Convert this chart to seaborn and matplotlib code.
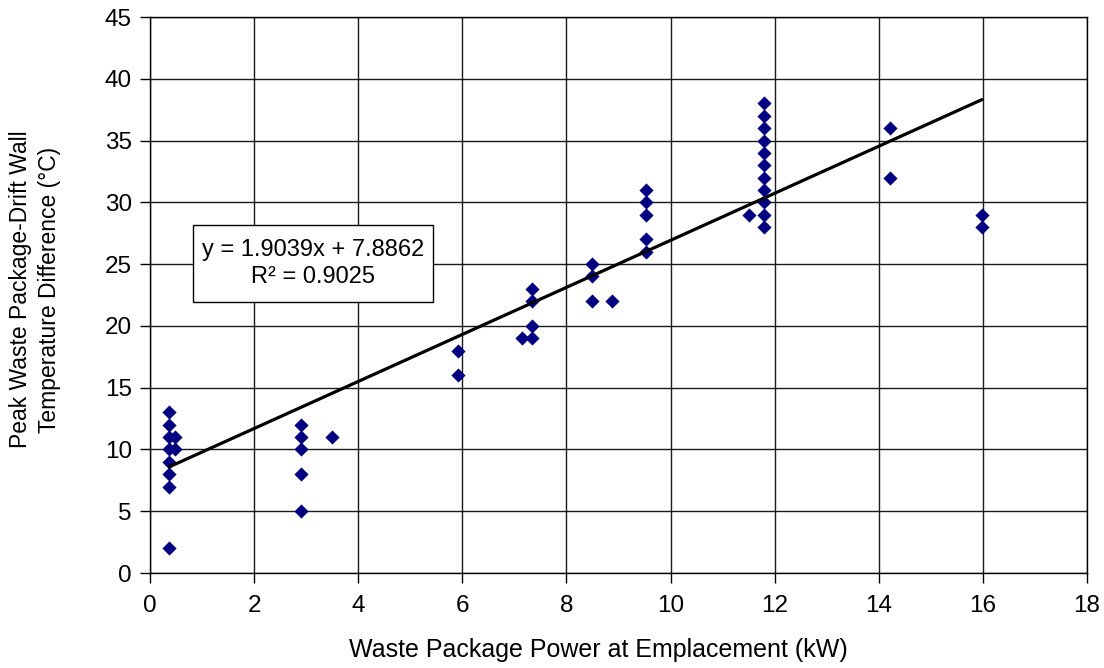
import numpy as np
import pandas as pd
import matplotlib
matplotlib.use("Agg")
import matplotlib.pyplot as plt
from matplotlib.patches import Rectangle
import seaborn as sns

# Waste package power (kW) and peak package-to-drift-wall temperature difference (°C)
power_kw = [0.37, 0.37, 0.37, 0.37, 0.37, 0.37, 0.37, 0.37, 0.48, 0.48,
            2.9, 2.9, 2.9, 2.9, 2.9, 3.5,
            5.92, 5.92,
            7.15, 7.33, 7.33, 7.33, 7.33,
            8.49, 8.49, 8.49, 8.88,
            9.53, 9.53, 9.53, 9.53, 9.53,
            11.5, 11.8, 11.8, 11.8, 11.8, 11.8, 11.8, 11.8, 11.8, 11.8, 11.8, 11.8,
            14.21, 14.21,
            15.98, 15.98]
temp_diff_c = [13, 12, 11, 10, 9, 8, 7, 2, 11, 10,
               12, 11, 10, 8, 5, 11,
               18, 16,
               19, 23, 22, 20, 19,
               25, 24, 22, 22,
               31, 30, 29, 27, 26,
               29, 38, 37, 36, 35, 34, 33, 32, 31, 30, 29, 28,
               36, 32,
               29, 28]

# Linear trend line as reported
slope = 1.9039
intercept = 7.8862
r_squared = 0.9025

x_ticks = list(range(0, 19, 2))
y_ticks = list(range(0, 46, 5))

sns.set_style("white")
plt.rcParams["font.family"] = ["Liberation Sans", "DejaVu Sans"]
plt.rcParams.update({"text.color": "black", "axes.labelcolor": "black",
                     "xtick.color": "black", "ytick.color": "black"})

df = pd.DataFrame({"power": power_kw, "dT": temp_diff_c})

fig = plt.figure(figsize=(11.04, 6.68), dpi=100)
ax = fig.add_axes([150 / 1104, 1 - 573 / 668, (1087 - 150) / 1104, (573 - 17) / 668])

sns.scatterplot(data=df, x="power", y="dT", marker="D", s=52, color="#000080",
                linewidth=0, ax=ax, zorder=3)

xs = np.array([min(power_kw), max(power_kw)])
sns.lineplot(x=xs, y=slope * xs + intercept, color="black", linewidth=2.3, ax=ax, zorder=4)

ax.set_xlim(0, 18)
ax.set_ylim(0, 45)
ax.set_xticks(x_ticks)
ax.set_yticks(y_ticks)
ax.grid(True, color="#1a1a1a", linewidth=1.0)
ax.set_axisbelow(True)
for sp in ax.spines.values():
    sp.set_color("black")
    sp.set_linewidth(1.0)
ax.tick_params(axis="both", direction="out", length=7, width=1, color="black",
               labelsize=17.5, bottom=True, left=True)
ax.tick_params(axis="x", pad=9)
ax.tick_params(axis="y", pad=6)

ax.set_xlabel("Waste Package Power at Emplacement (kW)", fontsize=18, va="center")
ax.xaxis.set_label_coords((598 - 150) / 937, (573 - 650) / 556)
ax.set_ylabel("Peak Waste Package-Drift Wall\nTemperature Difference (°C)", fontsize=16.5,
              linespacing=1.3, va="center")
ax.yaxis.set_label_coords((35 - 150) / 937, 0.51)

# Trend-line equation box
ax.add_patch(Rectangle((0.83, 21.93), 4.61, 6.23, facecolor="white", edgecolor="black",
                       linewidth=1.0, zorder=5))
ax.text(3.13, 25.05, f"y = {slope:.4f}x + {intercept:.4f}\nR² = {r_squared:.4f}",
        ha="center", va="center", fontsize=17, linespacing=1.35, zorder=6)

fig.savefig("out.png", dpi=100)
